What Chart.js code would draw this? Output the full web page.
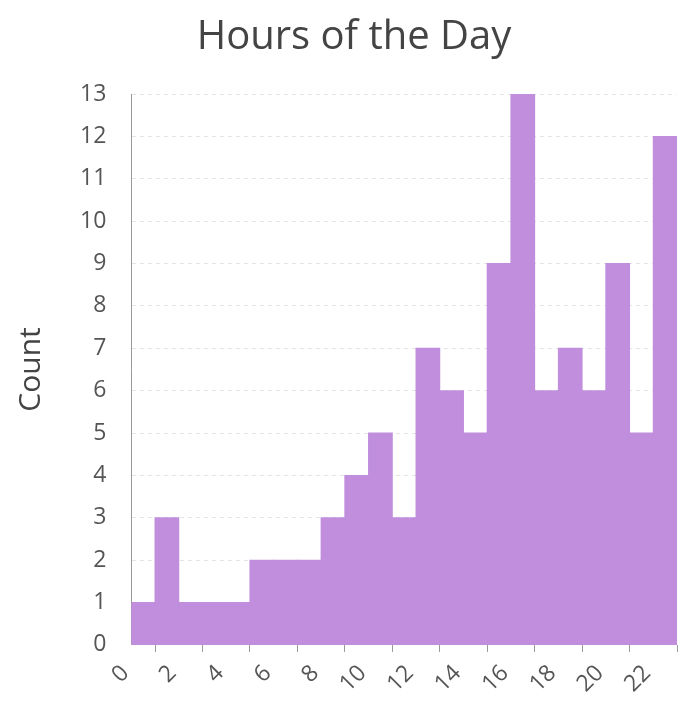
<!DOCTYPE html>
<html>
<head>
<meta charset="utf-8">
<script src="https://cdn.jsdelivr.net/npm/chart.js@4"></script>
<style>
  html, body { margin: 0; padding: 0; background: #fff; }
</style>
</head>
<body>
<canvas id="hoursChart" width="692" height="716"></canvas>
<script>
// hour bins 0..22, each one hour wide
const hourBins = [0, 1, 2, 3, 4, 5, 6, 7, 8, 9, 10, 11, 12, 13, 14, 15, 16, 17, 18, 19, 20, 21, 22];
const counts = [1, 3, 1, 1, 1, 2, 2, 2, 3, 4, 5, 3, 7, 6, 5, 9, 13, 6, 7, 6, 9, 5, 12];
const xTicks = [0, 2, 4, 6, 8, 10, 12, 14, 16, 18, 20, 22];
const xRange = [0, 23];
const yRange = [0, 13];

const points = hourBins.map((h, i) => ({ x: h + 0.5, y: counts[i] }));

Chart.defaults.font.family = "'Open Sans', 'Noto Sans', sans-serif";
Chart.defaults.color = "#555";

const ctx = document.getElementById("hoursChart").getContext("2d");
const hoursChart = new Chart(ctx, {
    type: "bar",
    data: {
        datasets: [{
            label: "Count",
            data: points,
            backgroundColor: "rgb(192, 142, 220)",
            borderWidth: 0,
            inflateAmount: 0.5,
            barPercentage: 1,
            categoryPercentage: 1,
        }],
    },
    options: {
        responsive: false,
        animation: false,
        layout: { padding: { left: 31, right: 15, top: 0, bottom: 10 } },
        plugins: {
            legend: { display: false },
            tooltip: { enabled: false },
            title: {
                display: true,
                text: "Hours of the Day",
                color: "#444",
                font: { size: 40, weight: "normal" },
                padding: { top: 14, bottom: 32 },
            },
        },
        scales: {
            x: {
                type: "linear",
                offset: false,
                min: xRange[0],
                max: xRange[1],
                afterBuildTicks: (axis) => {
                    axis.ticks = xTicks.map((v) => ({ value: v }));
                },
                ticks: {
                    minRotation: 45,
                    maxRotation: 45,
                    autoSkip: false,
                    color: "#555",
                    font: { size: 23 },
                    padding: 8,
                    labelOffset: -6,
                },
                grid: {
                    drawOnChartArea: false,
                    drawTicks: true,
                    tickLength: 7,
                    color: "#999",
                },
                border: { display: false },
            },
            y: {
                min: yRange[0],
                max: yRange[1],
                ticks: {
                    stepSize: 1,
                    autoSkip: false,
                    color: "#555",
                    font: { size: 23 },
                    padding: 25,
                },
                grid: {
                    drawTicks: false,
                    color: "#e4e4e4",
                },
                border: { display: true, color: "#999", width: 1, dash: [4, 4] },
                title: {
                    display: true,
                    text: "Count",
                    color: "#444",
                    font: { size: 30 },
                    padding: { top: -18, bottom: 6 },
                },
            },
        },
    },
});
</script>
</body>
</html>
